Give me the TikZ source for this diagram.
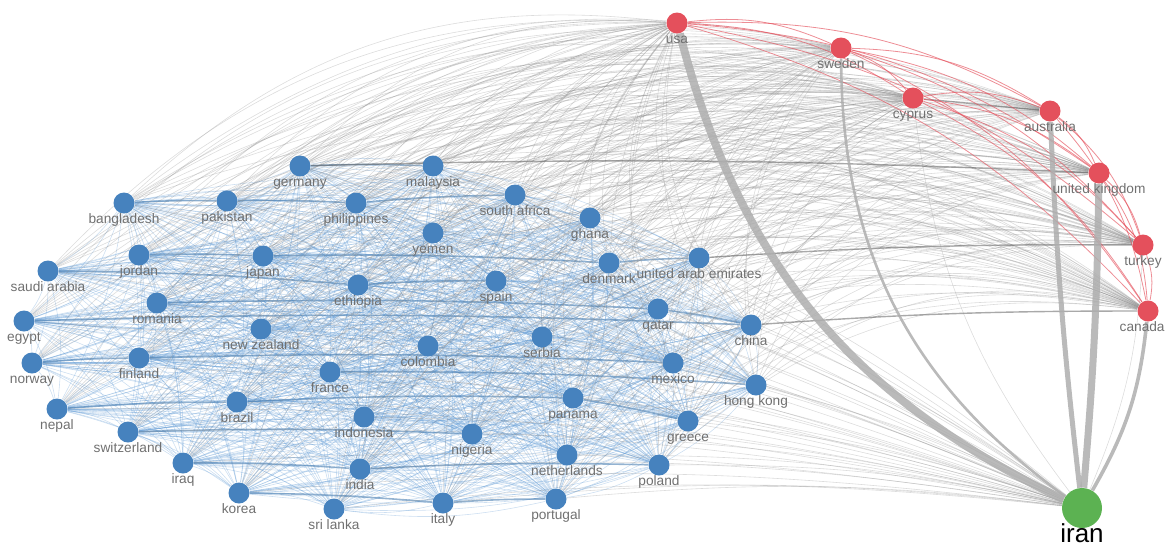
\documentclass[tikz,border=0pt]{standalone}
\usepackage{fontspec}
\setmainfont{Liberation Sans}
\usetikzlibrary{backgrounds}
\definecolor{vosblue}{RGB}{70,130,190}
\definecolor{vosred}{RGB}{228,80,92}
\definecolor{vosgreen}{RGB}{92,178,82}
\definecolor{linkblue}{RGB}{90,150,210}
\definecolor{linkgrey}{RGB}{140,140,140}
\definecolor{taggrey}{RGB}{112,112,112}
\def\bluelist{germany,malaysia,bangladesh,pakistan,philippines,southafrica,ghana,yemen,jordan,japan,saudi,denmark,uae,ethiopia,spain,romania,qatar,egypt,newzealand,china,serbia,colombia,norway,finland,france,mexico,hongkong,brazil,panama,nepal,indonesia,greece,switzerland,nigeria,iraq,netherlands,poland,india,korea,italy,portugal,srilanka}
\def\redlist{usa,sweden,cyprus,australia,uk,turkey,canada}
\begin{document}
\begin{tikzpicture}[x=0.5pt,y=-0.5pt,
		country/.style={circle, fill=vosblue, minimum size=10.5pt, inner sep=0pt},
		hub/.style={circle, fill=vosred, minimum size=10.5pt, inner sep=0pt},
		focus/.style={circle, fill=vosgreen, minimum size=20pt, inner sep=0pt},
		tag/.style={anchor=base, inner sep=0pt, text=taggrey,
				font=\fontsize{6.85}{7}\selectfont},
		blueline/.style={linkblue, opacity=0.3, line width=0.3pt},
		strongblue/.style={linkblue!85!black, opacity=0.6, line width=0.8pt},
		greyline/.style={linkgrey, opacity=0.3, line width=0.3pt},
		strongrey/.style={linkgrey!70!black, opacity=0.55, line width=0.7pt},
		redline/.style={vosred, opacity=0.65, line width=0.4pt},
		thickgrey/.style={linkgrey!70, opacity=0.85}
	]
	\useasboundingbox (0,0) rectangle (1166,547);

	\foreach \n/\x/\y/\t in {germany/300/166/germany, malaysia/433/166/malaysia,
			bangladesh/124/203/bangladesh, pakistan/227/201/pakistan,
			philippines/356/203/philippines, southafrica/515/195/south africa,
			ghana/590/218/ghana, yemen/433/233/yemen, jordan/139/255/jordan,
			japan/263/256/japan, saudi/48/271/saudi arabia, denmark/609/263/denmark,
			uae/699/258/united arab emirates, ethiopia/358/285/ethiopia,
			spain/496/281/spain, romania/157/303/romania, qatar/658/309/qatar,
			egypt/24/321/egypt, newzealand/261/329/new zealand, china/751/325/china,
			serbia/542/337/serbia, colombia/428/346/colombia, norway/32/363/norway,
			finland/139/358/finland, france/330/372/france, mexico/673/363/mexico,
			hongkong/756/385/hong kong, brazil/237/402/brazil, panama/573/398/panama,
			nepal/57/409/nepal, indonesia/364/417/indonesia, greece/688/421/greece,
			switzerland/128/432/switzerland, nigeria/472/434/nigeria,
			iraq/183/463/iraq, netherlands/567/455/netherlands,
			poland/659/465/poland, india/360/469/india, korea/239/493/korea,
			italy/443/503/italy, portugal/556/499/portugal,
			srilanka/334/509/sri lanka} {
			\node[country] (\n) at (\x,\y) {};
			\node[tag] (\n-t) at (\x,{\y+20}) {\t};
		}

	\foreach \n/\x/\y/\t in {usa/677/23/usa, sweden/841/48/sweden,
			cyprus/913/98/cyprus, australia/1050/111/australia,
			uk/1099/173/united kingdom, turkey/1143/245/turkey} {
			\node[hub] (\n) at (\x,\y) {};
			\node[tag] (\n-t) at (\x,{\y+20}) {\t};
		}
	\node[hub] (canada) at (1148,311) {};
	\node[tag, anchor=base east] (canada-t) at (1165,331) {canada};

	\node[focus] (iran) at (1082,508) {};
	\node[anchor=base, inner sep=0pt, font=\fontsize{13}{14}\selectfont]
	(iran-t) at (1082,542) {iran};

	\begin{pgfonlayer}{background}
		% links inside the blue cluster
		\foreach \a [count=\i] in \bluelist {
				\foreach \b [count=\j] in \bluelist {
						\ifnum\j>\i \draw[blueline] (\a) to[bend left=10] (\b); \fi
					}
			}
		\foreach \a/\b in {bangladesh/pakistan, pakistan/philippines,
				germany/malaysia, saudi/ethiopia, jordan/japan, japan/denmark,
				romania/qatar, egypt/china, ethiopia/spain, philippines/southafrica,
				denmark/uae, qatar/china, norway/finland, finland/mexico,
				france/hongkong, nepal/brazil, brazil/panama, switzerland/nigeria,
				iraq/india, india/poland, korea/italy, italy/portugal,
				panama/greece} {
				\draw[strongblue] (\a) to[bend left=2] (\b);
			}

		% links to the other clusters
		\foreach \a in \bluelist {
				\foreach \r in \redlist {
						\draw[greyline] (\a) to[bend left=25] (\r);
					}
				\draw[greyline] (\a) to[bend left=6] (iran);
			}
		\foreach \a/\b in {germany/uk, china/canada, uae/turkey} {
				\draw[strongrey] (\a) to[bend left=2] (\b);
			}
		\draw[strongrey] (cyprus) -- (australia);

		\foreach \a [count=\i] in \redlist {
				\foreach \b [count=\j] in \redlist {
						\ifnum\j>\i \draw[redline] (\a) to[bend left=15] (\b); \fi
					}
			}

		% strong links to iran
		\draw[thickgrey, line width=4pt] (usa) to[bend right=25] (iran);
		\draw[thickgrey, line width=1.3pt] (sweden) to[bend right=27] (iran);
		\draw[thickgrey, line width=3.5pt] (uk) to[bend left=2] (iran);
		\draw[thickgrey, line width=2.5pt] (australia) to[bend right=2] (iran);
		\draw[thickgrey, line width=1.8pt] (canada) to[bend left=12] (iran);
		\draw[greyline] (turkey) to[bend left=10] (iran);
		\draw[greyline] (cyprus) to[bend right=15] (iran);
	\end{pgfonlayer}
\end{tikzpicture}
\end{document}
